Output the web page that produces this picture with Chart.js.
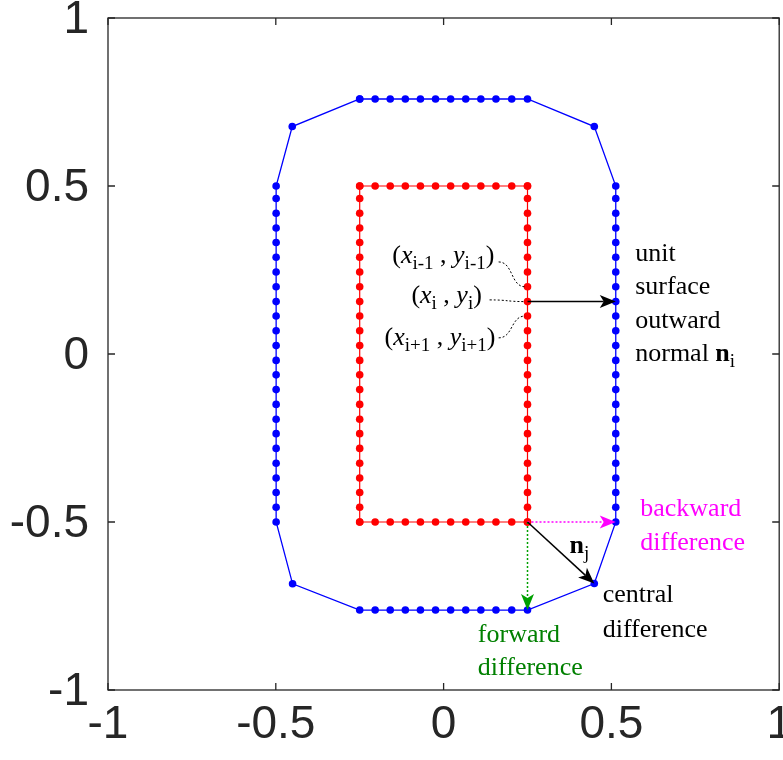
<!DOCTYPE html>
<html>
<head>
<meta charset="utf-8">
<script src="https://cdn.jsdelivr.net/npm/chart.js@4.4.1/dist/chart.umd.min.js"></script>
<style>
html,body{margin:0;padding:0;background:#fff;}
#wrap{width:783px;height:760px;}
</style>
</head>
<body>
<div id="wrap"><canvas id="c" width="783" height="760"></canvas></div>
<script>
// ---- Data ----
// inner (red) rectangle
const redEdgeX = [-0.25,-0.204,-0.159,-0.114,-0.069,-0.024,0.021,0.066,0.111,0.156,0.203,0.25];
const redSideY = [-0.5,-0.456,-0.412,-0.369,-0.325,-0.281,-0.237,-0.194,-0.15,-0.106,-0.062,-0.019,0.025,0.069,0.113,0.156,0.2,0.244,0.288,0.332,0.375,0.419,0.463,0.5];
const redLeftX = -0.25, redRightX = 0.25, redTopY = 0.5, redBottomY = -0.5;
// outer (blue) polygon
const blueEdgeX = [-0.25,-0.204,-0.159,-0.114,-0.069,-0.024,0.021,0.066,0.111,0.156,0.203,0.25];
const blueSideY = [-0.5,-0.456,-0.412,-0.369,-0.325,-0.281,-0.237,-0.194,-0.15,-0.106,-0.062,-0.019,0.025,0.069,0.113,0.156,0.2,0.244,0.288,0.332,0.375,0.419,0.463,0.5];
const blueLeftX = -0.499, blueRightX = 0.513, blueTopY = 0.759, blueBottomY = -0.762;
const blueCornerX = [0.449, 0.449, -0.45, -0.451];   // TR, BR, BL, TL
const blueCornerY = [0.677, -0.683, -0.684, 0.677];
// axis ticks
const xTicks = [-1,-0.5,0,0.5,1];
const yTicks = [-1,-0.5,0,0.5,1];
// annotation arrows [x0,y0,x1,y1]
const arrowNi   = [0.25, 0.156, 0.513, 0.156];
const arrowBack = [0.25, -0.5, 0.513, -0.5];
const arrowFwd  = [0.25, -0.5, 0.25, -0.762];
const arrowNj   = [0.25, -0.5, 0.449, -0.683];
// dotted connectors from labels to points [x0,y0,x1,y1]
const connPrev = [0.164, 0.274, 0.243, 0.2];
const connCur  = [0.137, 0.161, 0.243, 0.156];
const connNext = [0.164, 0.048, 0.243, 0.113];

// ---- build polygons ----
const redPts = [];
redEdgeX.forEach(x => redPts.push({x, y: redTopY}));
redSideY.slice().reverse().forEach(y => redPts.push({x: redRightX, y}));
redEdgeX.slice().reverse().forEach(x => redPts.push({x, y: redBottomY}));
redSideY.forEach(y => redPts.push({x: redLeftX, y}));

const bluePts = [];
blueEdgeX.forEach(x => bluePts.push({x, y: blueTopY}));
bluePts.push({x: blueCornerX[0], y: blueCornerY[0]});
blueSideY.slice().reverse().forEach(y => bluePts.push({x: blueRightX, y}));
bluePts.push({x: blueCornerX[1], y: blueCornerY[1]});
blueEdgeX.slice().reverse().forEach(x => bluePts.push({x, y: blueBottomY}));
bluePts.push({x: blueCornerX[2], y: blueCornerY[2]});
blueSideY.forEach(y => bluePts.push({x: blueLeftX, y}));
bluePts.push({x: blueCornerX[3], y: blueCornerY[3]});
bluePts.push({x: blueEdgeX[0], y: blueTopY});

const AXC = '#262626';
const SERIF = '"Liberation Serif","Times New Roman",serif';

function drawArrow(ctx, x0, y0, x1, y1, color, dashed, lw) {
  const ang = Math.atan2(y1 - y0, x1 - x0);
  const L = 16, W = 6.5, back = 4;
  ctx.save();
  ctx.strokeStyle = color; ctx.fillStyle = color; ctx.lineWidth = lw;
  if (dashed) ctx.setLineDash([2, 2]);
  ctx.beginPath();
  ctx.moveTo(x0, y0);
  ctx.lineTo(x1 - Math.cos(ang) * (L - back), y1 - Math.sin(ang) * (L - back));
  ctx.stroke();
  ctx.setLineDash([]);
  const ca = Math.cos(ang), sa = Math.sin(ang);
  const bx = x1 - ca * L, by = y1 - sa * L;
  ctx.beginPath();
  ctx.moveTo(x1, y1);
  ctx.lineTo(bx - sa * W, by + ca * W);
  ctx.lineTo(x1 - ca * (L - back), y1 - sa * (L - back));
  ctx.lineTo(bx + sa * W, by - ca * W);
  ctx.closePath();
  ctx.fill();
  ctx.restore();
}

function richText(ctx, x, y, segs, color, size) {
  ctx.save();
  ctx.fillStyle = color;
  ctx.textBaseline = 'alphabetic';
  ctx.textAlign = 'left';
  let cx = x;
  segs.forEach(s => {
    const sz = s.sub ? Math.round(size * 0.72) : size;
    const st = (s.i ? 'italic ' : '') + (s.b ? 'bold ' : '');
    ctx.font = st + sz + 'px ' + SERIF;
    ctx.fillText(s.t, cx, y + (s.sub ? size * 0.22 : 0));
    cx += ctx.measureText(s.t).width;
  });
  ctx.restore();
}

const overlay = {
  id: 'overlay',
  afterDatasetsDraw(chart) {
    const ctx = chart.ctx;
    const xs = chart.scales.x, ys = chart.scales.y;
    const X = v => xs.getPixelForValue(v), Y = v => ys.getPixelForValue(v);
    const ca = chart.chartArea;

    // dotted connectors
    ctx.save();
    ctx.strokeStyle = '#000'; ctx.lineWidth = 1; ctx.setLineDash([2, 2]);
    [connPrev, connCur, connNext].forEach(c => {
      const x0 = X(c[0]), y0 = Y(c[1]), x1 = X(c[2]), y1 = Y(c[3]);
      const dx = (x1 - x0) * 0.55;
      ctx.beginPath();
      ctx.moveTo(x0, y0);
      ctx.bezierCurveTo(x0 + dx, y0, x1 - dx, y1, x1, y1);
      ctx.stroke();
    });
    ctx.restore();

    // arrows
    drawArrow(ctx, X(arrowBack[0]), Y(arrowBack[1]), X(arrowBack[2]), Y(arrowBack[3]), '#ff00ff', true, 1.5);
    drawArrow(ctx, X(arrowFwd[0]), Y(arrowFwd[1]), X(arrowFwd[2]), Y(arrowFwd[3]), '#00a000', true, 1.5);
    drawArrow(ctx, X(arrowNi[0]), Y(arrowNi[1]), X(arrowNi[2]), Y(arrowNi[3]), '#000', false, 1.5);
    drawArrow(ctx, X(arrowNj[0]), Y(arrowNj[1]), X(arrowNj[2]), Y(arrowNj[3]), '#000', false, 1.5);

    // texts
    const S = 26;
    richText(ctx, X(-0.153), Y(0.271), [{t:'('},{t:'x',i:1},{t:'i-1',sub:1},{t:' , '},{t:'y',i:1},{t:'i-1',sub:1},{t:')'}], '#000', S);
    richText(ctx, X(-0.096), Y(0.152), [{t:'('},{t:'x',i:1},{t:'i',sub:1},{t:' , '},{t:'y',i:1},{t:'i',sub:1},{t:')'}], '#000', S);
    richText(ctx, X(-0.176), Y(0.027), [{t:'('},{t:'x',i:1},{t:'i+1',sub:1},{t:' , '},{t:'y',i:1},{t:'i+1',sub:1},{t:')'}], '#000', S);

    richText(ctx, X(0.571), Y(0.277), [{t:'unit'}], '#000', S);
    richText(ctx, X(0.571), Y(0.179), [{t:'surface'}], '#000', S);
    richText(ctx, X(0.571), Y(0.077), [{t:'outward'}], '#000', S);
    richText(ctx, X(0.571), Y(-0.021), [{t:'normal '},{t:'n',b:1},{t:'i',sub:1}], '#000', S);

    richText(ctx, X(0.586), Y(-0.482), [{t:'backward'}], '#ff00ff', S);
    richText(ctx, X(0.586), Y(-0.583), [{t:'difference'}], '#ff00ff', S);

    richText(ctx, X(0.375), Y(-0.592), [{t:'n',b:1},{t:'j',sub:1}], '#000', S);
    richText(ctx, X(0.474), Y(-0.738), [{t:'central'}], '#000', S);
    richText(ctx, X(0.474), Y(-0.842), [{t:'difference'}], '#000', S);

    richText(ctx, X(0.102), Y(-0.856), [{t:'forward'}], '#008000', S);
    richText(ctx, X(0.102), Y(-0.955), [{t:'difference'}], '#008000', S);

    // axes box with inward ticks
    ctx.save();
    ctx.strokeStyle = AXC; ctx.lineWidth = 1.3;
    ctx.strokeRect(ca.left, ca.top, ca.right - ca.left, ca.bottom - ca.top);
    const tl = 7;
    ctx.beginPath();
    xTicks.forEach(v => {
      const px = X(v);
      ctx.moveTo(px, ca.bottom); ctx.lineTo(px, ca.bottom - tl);
      ctx.moveTo(px, ca.top); ctx.lineTo(px, ca.top + tl);
    });
    yTicks.forEach(v => {
      const py = Y(v);
      ctx.moveTo(ca.left, py); ctx.lineTo(ca.left + tl, py);
      ctx.moveTo(ca.right, py); ctx.lineTo(ca.right - tl, py);
    });
    ctx.stroke();
    ctx.restore();
  }
};

const tickFont = {family: '"Liberation Sans", Arial, Helvetica, sans-serif', size: 46};

new Chart(document.getElementById('c'), {
  type: 'scatter',
  data: {
    datasets: [
      {
        data: bluePts, showLine: true, borderColor: '#0000ff', backgroundColor: '#0000ff',
        borderWidth: 1.3, pointRadius: 3.8, pointBorderWidth: 0, pointHoverRadius: 3.8, tension: 0
      },
      {
        data: redPts, showLine: true, borderColor: '#ff0000', backgroundColor: '#ff0000',
        borderWidth: 1.2, pointRadius: 3.8, pointBorderWidth: 0, pointHoverRadius: 3.8, tension: 0
      }
    ]
  },
  options: {
    responsive: false,
    animation: false,
    events: [],
    layout: {padding: {top: 18, right: 3, left: 0, bottom: 0}},
    plugins: {legend: {display: false}, tooltip: {enabled: false}},
    scales: {
      x: {
        type: 'linear', min: -1, max: 1,
        afterBuildTicks: s => { s.ticks = xTicks.map(v => ({value: v})); },
        ticks: {color: AXC, font: tickFont, padding: 8, maxRotation: 0, autoSkip: false,
                callback: v => String(v)},
        grid: {display: false, drawTicks: false},
        border: {display: false},
        afterFit: s => { s.height = 70; s.paddingLeft = 0; s.paddingRight = 0; }
      },
      y: {
        type: 'linear', min: -1, max: 1,
        afterBuildTicks: s => { s.ticks = yTicks.map(v => ({value: v})); },
        ticks: {color: AXC, font: tickFont, padding: 19, labelOffset: 2, autoSkip: false,
                callback: v => String(v)},
        grid: {display: false, drawTicks: false},
        border: {display: false},
        afterFit: s => { s.width = 108; s.paddingTop = 0; s.paddingBottom = 0; }
      }
    }
  },
  plugins: [overlay]
});
</script>
</body>
</html>
